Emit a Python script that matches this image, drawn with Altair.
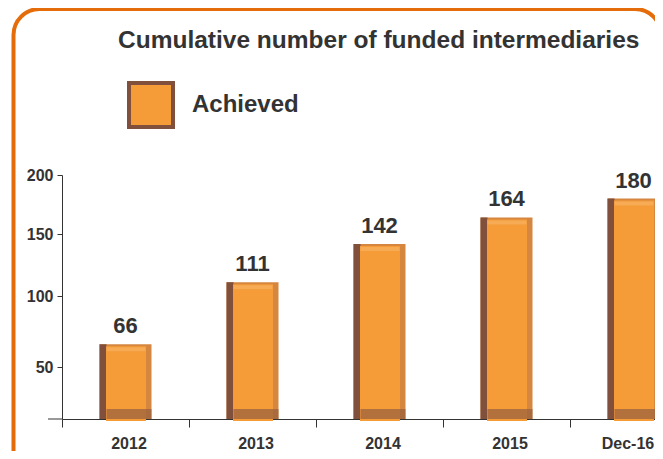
import altair as alt
import pandas as pd

periods = ["2012", "2013", "2014", "2015", "Dec-16"]
values = [66, 111, 142, 164, 180]
series = ["Achieved"] * 5
y_ticks = [50, 100, 150, 200]
title_text = "Cumulative number of funded intermediaries"

df = pd.DataFrame({"period": periods, "value": values, "series": series})
one = pd.DataFrame({"k": [0]})

TXT = "#333333"
ORANGE = "#F59B38"
RIM = "#D6873F"
BROWN = "#80503D"
BOTTOM = "#96603F"
LIGHT = "#F8B262"

X = alt.X(
    "period:N",
    sort=periods,
    scale=alt.Scale(domain=periods, range=[0, 635], paddingInner=0, paddingOuter=0),
    axis=alt.Axis(
        title=None, labelAngle=0, labelFontSize=16, labelFontWeight="bold",
        labelColor=TXT, tickSize=8, tickBand="extent", tickColor=TXT,
        domainColor=TXT, labelPadding=8,
        labelOffset=alt.condition("datum.label == 'Dec-16'", alt.value(-6), alt.value(3)),
    ),
)
Y = alt.Y(
    "value:Q",
    scale=alt.Scale(type="linear", domain=[0, 50, 100, 150, 200],
                    range=[244, 192, 121, 59, 0], zero=False, nice=False),
    axis=alt.Axis(
        title=None, values=y_ticks, grid=False, labelFontSize=16,
        labelFontWeight="bold", labelColor=TXT, tickSize=5, tickColor=TXT,
        domainColor=TXT, labelPadding=4,
    ),
)

base = alt.Chart(df).encode(x=X)

frame = alt.Chart(one).mark_rect(
    fillOpacity=0, stroke="#E46C0A", strokeWidth=4, cornerRadius=26
).encode(x=alt.value(-48.5), x2=alt.value(599), y=alt.value(-166), y2=alt.value(400))

title = alt.Chart(one).mark_text(
    text=title_text, align="left", baseline="alphabetic",
    fontSize=24.5, fontWeight="bold", color=TXT,
).encode(x=alt.value(56), y=alt.value(-127))

outer = base.mark_bar(size=52, color=RIM).encode(y=Y)
left_edge = base.mark_bar(size=7, xOffset=-22.5, color=BROWN).encode(y=Y)
inner = base.mark_bar(size=40, xOffset=0.5, yOffset=2, y2Offset=-10).encode(
    y=Y,
    color=alt.Color(
        "series:N",
        scale=alt.Scale(range=[ORANGE]),
        legend=alt.Legend(
            title=None, orient="none", legendX=65, legendY=-94,
            symbolType="square", symbolSize=1936, symbolStrokeColor=BROWN,
            symbolStrokeWidth=4, labelFontSize=24, labelFontWeight="bold",
            labelColor=TXT, labelOffset=17, padding=0,
        ),
    ),
)
bottom_band = base.mark_tick(size=45, xOffset=3.5, thickness=10, yOffset=-5, color=BOTTOM).encode(
    y=alt.datum(0)
)
top_band = base.mark_tick(size=39, xOffset=0.5, thickness=4, yOffset=5, color=LIGHT).encode(y=Y)

labels = base.mark_text(
    dy=-6, baseline="bottom", fontSize=22, fontWeight="bold", color=TXT
).encode(y=Y, text=alt.Text("value:Q"))

axis_ext = alt.Chart(one).mark_rule(color=TXT).encode(
    x=alt.value(-14), x2=alt.value(0), y=alt.value(244)
)

chart = alt.layer(
    frame, title, outer, left_edge, inner, bottom_band, top_band, labels, axis_ext
).properties(
    width=593,
    height=244,
    autosize=alt.AutoSizeParams(type="none"),
    padding={"left": 54, "top": 167, "right": 0, "bottom": 32},
).configure(font="Liberation Sans", background="white").configure_view(strokeWidth=0)

chart.save("out.html", embed_options={"renderer": "svg", "actions": False})
